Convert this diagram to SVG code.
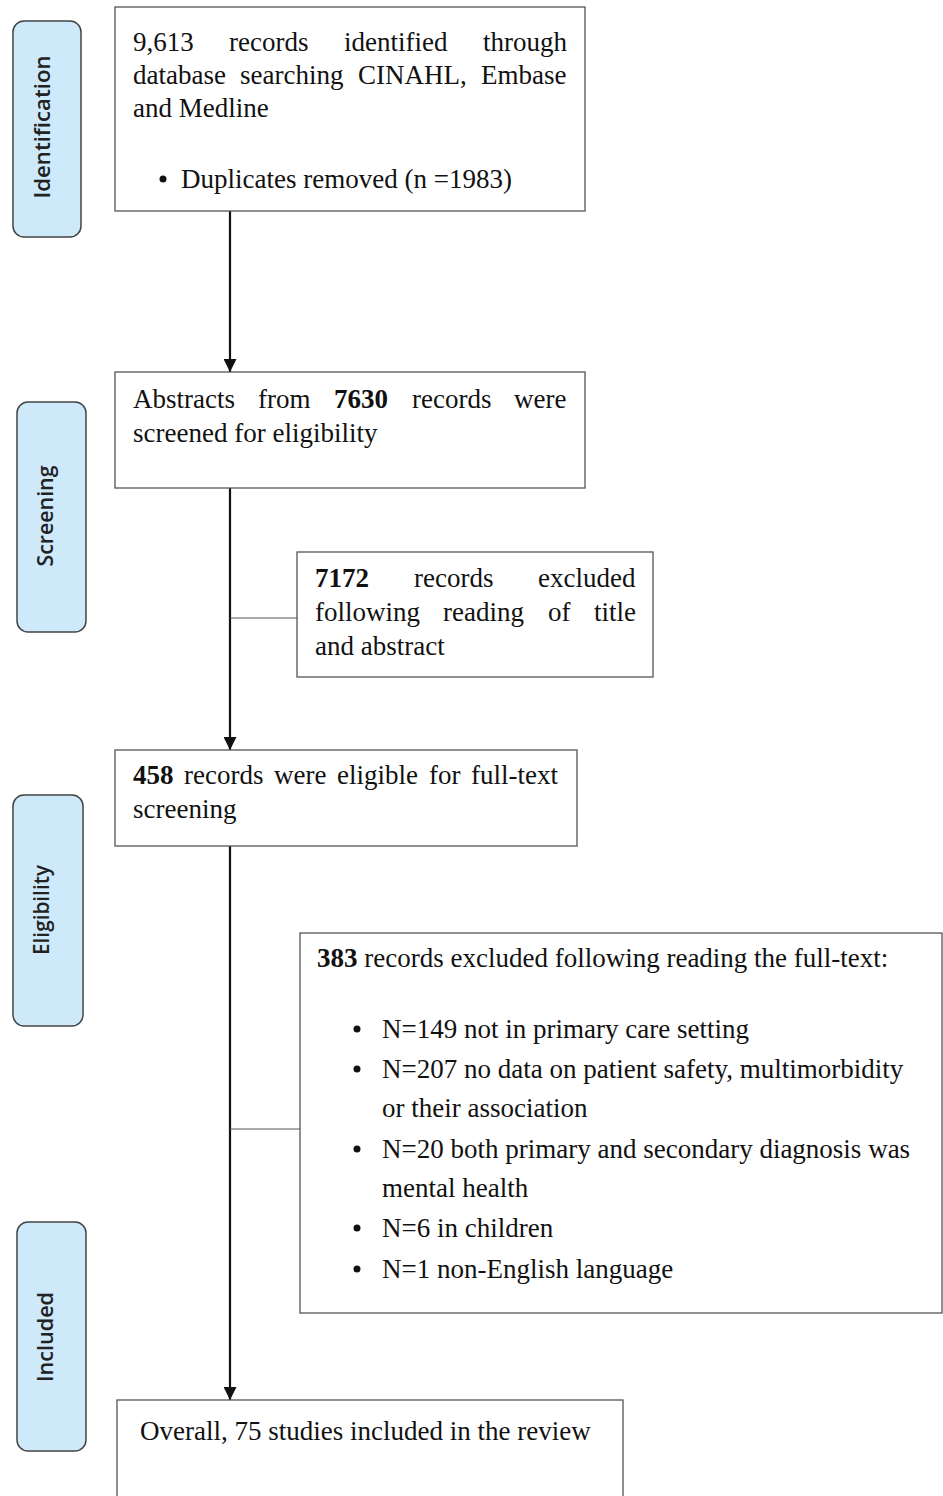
<svg xmlns="http://www.w3.org/2000/svg" width="943" height="1496" viewBox="0 0 943 1496">
<style>
.box{fill:#fff;stroke:#555;stroke-width:1.3}
.side{fill:#cde9fa;stroke:#444;stroke-width:1.5}
.t{font-family:"Liberation Serif","Times New Roman",serif;font-size:27px;fill:#111}
.b{font-weight:bold}
.s{font-family:"Open Sans","Liberation Sans",sans-serif;font-size:22px;font-weight:600;fill:#222;text-anchor:middle}
.main{stroke:#111;stroke-width:2.2;fill:none}
.br{stroke:#555;stroke-width:1.2;fill:none}
</style>
<defs>
<marker id="ah" viewBox="0 0 10 10" refX="10" refY="5" markerUnits="userSpaceOnUse" markerWidth="14" markerHeight="13" orient="auto">
<path d="M0,0 L10,5 L0,10 z" fill="#111"/>
</marker>
</defs>

<g id="stage-identification">
<rect class="side" x="13" y="21" width="68" height="216" rx="11"/>
<text class="s" transform="translate(50,127) rotate(-90)" textLength="143" lengthAdjust="spacingAndGlyphs">Identification</text>
</g>
<g id="stage-screening">
<rect class="side" x="17" y="402" width="69" height="230" rx="11"/>
<text class="s" transform="translate(53,516) rotate(-90)" textLength="101" lengthAdjust="spacingAndGlyphs">Screening</text>
</g>
<g id="stage-eligibility">
<rect class="side" x="13" y="795" width="70" height="231" rx="11"/>
<text class="s" transform="translate(49,910) rotate(-90)" textLength="90" lengthAdjust="spacingAndGlyphs">Eligibility</text>
</g>
<g id="stage-included">
<rect class="side" x="17" y="1222" width="69" height="229" rx="11"/>
<text class="s" transform="translate(53,1337) rotate(-90)" textLength="90" lengthAdjust="spacingAndGlyphs">Included</text>
</g>

<g id="connectors">
<line class="main" x1="230" y1="211" x2="230" y2="372" marker-end="url(#ah)"/>
<line class="main" x1="230" y1="488" x2="230" y2="750" marker-end="url(#ah)"/>
<line class="main" x1="230" y1="846" x2="230" y2="1400" marker-end="url(#ah)"/>
<line class="br" x1="230" y1="618" x2="297" y2="618"/>
<line class="br" x1="230" y1="1129" x2="300" y2="1129"/>
</g>

<g id="node-identified">
<rect class="box" x="115" y="7" width="470" height="204"/>
<text class="t" y="51"><tspan x="133">9,613</tspan><tspan x="229">records</tspan><tspan x="344">identified</tspan><tspan x="483">through</tspan></text>
<text class="t" y="84"><tspan x="133">database</tspan><tspan x="240">searching</tspan><tspan x="358">CINAHL,</tspan><tspan x="481">Embase</tspan></text>
<text class="t" x="133" y="117">and Medline</text>
<circle cx="163" cy="179" r="3.5" fill="#111"/>
<text class="t" x="181" y="188">Duplicates removed (n =1983)</text>
</g>

<g id="node-screened">
<rect class="box" x="115" y="372" width="470" height="116"/>
<text class="t" y="408"><tspan x="133">Abstracts</tspan><tspan x="258">from</tspan><tspan class="b" x="334">7630</tspan><tspan x="412">records</tspan><tspan x="514">were</tspan></text>
<text class="t" x="133" y="442">screened for eligibility</text>
</g>

<g id="node-excluded-title">
<rect class="box" x="297" y="552" width="356" height="125"/>
<text class="t" y="587"><tspan class="b" x="315">7172</tspan><tspan x="414">records</tspan><tspan x="538">excluded</tspan></text>
<text class="t" y="621"><tspan x="315">following</tspan><tspan x="443">reading</tspan><tspan x="548">of</tspan><tspan x="594">title</tspan></text>
<text class="t" x="315" y="655">and abstract</text>
</g>

<g id="node-fulltext">
<rect class="box" x="115" y="750" width="462" height="96"/>
<text class="t" y="784"><tspan class="b" x="133">458</tspan><tspan x="184">records</tspan><tspan x="274">were</tspan><tspan x="337">eligible</tspan><tspan x="429">for</tspan><tspan x="471">full-text</tspan></text>
<text class="t" x="133" y="818">screening</text>
</g>

<g id="node-excluded-fulltext">
<rect class="box" x="300" y="933" width="642" height="380"/>
<text class="t" x="317" y="967"><tspan class="b">383</tspan> records excluded following reading the full-text:</text>
<circle cx="357" cy="1029" r="3.5" fill="#111"/>
<text class="t" x="382" y="1038">N=149 not in primary care setting</text>
<circle cx="357" cy="1069" r="3.5" fill="#111"/>
<text class="t" x="382" y="1078">N=207 no data on patient safety, multimorbidity</text>
<text class="t" x="382" y="1117">or their association</text>
<circle cx="357" cy="1149" r="3.5" fill="#111"/>
<text class="t" x="382" y="1158">N=20 both primary and secondary diagnosis was</text>
<text class="t" x="382" y="1197">mental health</text>
<circle cx="357" cy="1228" r="3.5" fill="#111"/>
<text class="t" x="382" y="1237">N=6 in children</text>
<circle cx="357" cy="1269" r="3.5" fill="#111"/>
<text class="t" x="382" y="1278">N=1 non-English language</text>
</g>

<g id="node-included">
<rect class="box" x="117" y="1400" width="506" height="110"/>
<text class="t" x="140" y="1440">Overall, 75 studies included in the review</text>
</g>
</svg>
